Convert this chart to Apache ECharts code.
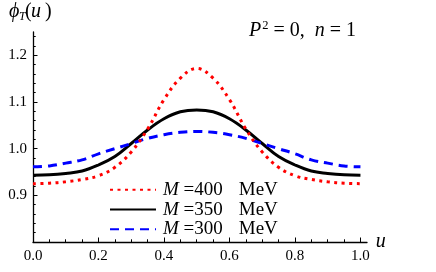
<!DOCTYPE html>
<html><head><meta charset="utf-8">
<script src="https://cdn.jsdelivr.net/npm/echarts@6/dist/echarts.min.js"></script>
<style>html,body{margin:0;padding:0;background:#fff}#c{width:436px;height:272px}</style>
</head><body><div id="c"></div>
<script>
const uValues = [0, 0.05, 0.1, 0.15, 0.2, 0.25, 0.3, 0.35, 0.4, 0.45, 0.5, 0.55, 0.6, 0.65, 0.7, 0.75, 0.8, 0.85, 0.9, 0.95, 1.0];
const m400 = [0.925, 0.926, 0.929, 0.934, 0.942, 0.960, 0.993, 1.042, 1.105, 1.151, 1.172, 1.151, 1.105, 1.042, 0.993, 0.960, 0.942, 0.934, 0.929, 0.926, 0.925];
const m350 = [0.943, 0.944, 0.947, 0.952, 0.965, 0.983, 1.011, 1.040, 1.064, 1.079, 1.083, 1.079, 1.064, 1.040, 1.011, 0.983, 0.965, 0.952, 0.947, 0.944, 0.943];
const m300 = [0.961, 0.963, 0.969, 0.976, 0.989, 1.000, 1.011, 1.022, 1.030, 1.035, 1.037, 1.035, 1.030, 1.022, 1.011, 1.000, 0.989, 0.976, 0.969, 0.963, 0.961];
const massLabels = ['400', '350', '300'];
const xMajorTicks = [0, 0.2, 0.4, 0.6, 0.8, 1.0];
const xMinorTicks = [0, 0.05, 0.1, 0.15, 0.2, 0.25, 0.3, 0.35, 0.4, 0.45, 0.5, 0.55, 0.6, 0.65, 0.7, 0.75, 0.8, 0.85, 0.9, 0.95, 1.0];
const yMajorTicks = [0.8, 0.9, 1.0, 1.1, 1.2];
const yLabelValues = [0.9, 1.0, 1.1, 1.2];
const yMinorTicks = [0.8, 0.82, 0.84, 0.86, 0.88, 0.9, 0.92, 0.94, 0.96, 0.98, 1.0, 1.02, 1.04, 1.06, 1.08, 1.1, 1.12, 1.14, 1.16, 1.18, 1.2, 1.22, 1.24];

const serif = 'Liberation Serif';
const chart = echarts.init(document.getElementById('c'), null, {renderer: 'canvas'});
const pairs = arr => uValues.map((u, i) => [u, arr[i]]);
const axisLineStyle = {color: '#000', width: 1.3};

chart.setOption({
  animation: false,
  backgroundColor: '#fff',
  textStyle: {fontFamily: serif},
  grid: {left: 33, top: 32, width: 334, height: 210, containLabel: false},
  title: {
    text: '{i|P}{s|2}{n| = 0,  }{i|n}{n| = 1}',
    left: 244, top: 14,
    textStyle: {fontFamily: serif, fontSize: 20, fontWeight: 'normal', color: '#000',
      rich: {
        i: {fontFamily: serif, fontSize: 20, fontStyle: 'italic', color: '#000', lineHeight: 23},
        n: {fontFamily: serif, fontSize: 20, fontStyle: 'normal', color: '#000', lineHeight: 23},
        s: {fontFamily: serif, fontSize: 12.5, fontStyle: 'normal', color: '#000', lineHeight: 12, verticalAlign: 'top', padding: [0, 0, 0, 1]}
      }}
  },
  graphic: [
    {type: 'text', left: 9, top: 2, style: {text: 'ϕ', font: 'italic 20px "Liberation Serif"', fill: '#000'}},
    {type: 'text', left: 19, top: 11, style: {text: 'T', font: 'italic 12px "Liberation Serif"', fill: '#000'}},
    {type: 'text', left: 25, top: 2, style: {text: '(', font: '20px "Liberation Serif"', fill: '#000'}},
    {type: 'text', left: 31, top: 2, style: {text: 'u', font: 'italic 20px "Liberation Serif"', fill: '#000'}},
    {type: 'text', left: 45, top: 2, style: {text: ')', font: '20px "Liberation Serif"', fill: '#000'}}
  ],
  legend: {
    orient: 'vertical', left: 104, top: 175,
    itemWidth: 46, itemHeight: 10, itemGap: 0,
    data: massLabels,
    itemStyle: {opacity: 0},
    formatter: name => '{m|M} {t|=' + name + '}{u|MeV}',
    textStyle: {
      fontFamily: serif, fontSize: 19, color: '#000', lineHeight: 19.7,
      rich: {
        m: {fontFamily: serif, fontSize: 19, fontStyle: 'italic', color: '#000', padding: [0, 0, 0, 2]},
        t: {fontFamily: serif, fontSize: 19, color: '#000'},
        u: {fontFamily: serif, fontSize: 19, color: '#000', padding: [0, 0, 0, 16]}
      }
    }
  },
  xAxis: [
    {
      type: 'value', min: 0, max: 1.02, position: 'bottom',
      name: 'u', nameLocation: 'end', nameGap: 8,
      nameTextStyle: {fontFamily: serif, fontSize: 20, fontStyle: 'italic', color: '#000', verticalAlign: 'middle', padding: [0, 0, 5, 0]},
      axisLine: {show: true, onZero: false, lineStyle: axisLineStyle},
      axisTick: {show: true, inside: true, length: 4.5, customValues: xMajorTicks, lineStyle: {color: '#000', width: 1}},
      axisLabel: {show: true, margin: 7, customValues: xMajorTicks, formatter: v => v.toFixed(1), fontFamily: serif, fontSize: 15, color: '#000'},
      splitLine: {show: false}
    },
    {
      type: 'value', min: 0, max: 1.02, position: 'bottom',
      axisLine: {show: false},
      axisTick: {show: true, inside: true, length: 2.7, customValues: xMinorTicks, lineStyle: {color: '#000', width: 1}},
      axisLabel: {show: false},
      splitLine: {show: false}
    }
  ],
  yAxis: [
    {
      type: 'value', min: 0.8, max: 1.25, position: 'left',
      axisLine: {show: true, onZero: false, lineStyle: axisLineStyle},
      axisTick: {show: true, inside: true, length: 4.5, customValues: yMajorTicks, lineStyle: {color: '#000', width: 1}},
      axisLabel: {show: true, margin: 6, customValues: yLabelValues, formatter: v => v.toFixed(1), fontFamily: serif, fontSize: 15, color: '#000'},
      splitLine: {show: false}
    },
    {
      type: 'value', min: 0.8, max: 1.25, position: 'left',
      axisLine: {show: false},
      axisTick: {show: true, inside: true, length: 2.7, customValues: yMinorTicks, lineStyle: {color: '#000', width: 1}},
      axisLabel: {show: false},
      splitLine: {show: false}
    }
  ],
  series: [
    {name: massLabels[0], type: 'line', smooth: 0.4, symbol: 'none', data: pairs(m400),
      lineStyle: {color: '#ff0000', width: 3, type: [3, 4.5], cap: 'butt'}, itemStyle: {color: '#ff0000'}, z: 3},
    {name: massLabels[1], type: 'line', smooth: 0.4, symbol: 'none', data: pairs(m350),
      lineStyle: {color: '#000000', width: 3, type: 'solid'}, itemStyle: {color: '#000000'}, z: 2},
    {name: massLabels[2], type: 'line', smooth: 0.4, symbol: 'none', data: pairs(m300),
      lineStyle: {color: '#0000ff', width: 3, type: [9, 6]}, itemStyle: {color: '#0000ff'}, z: 2}
  ]
});
</script></body></html>
